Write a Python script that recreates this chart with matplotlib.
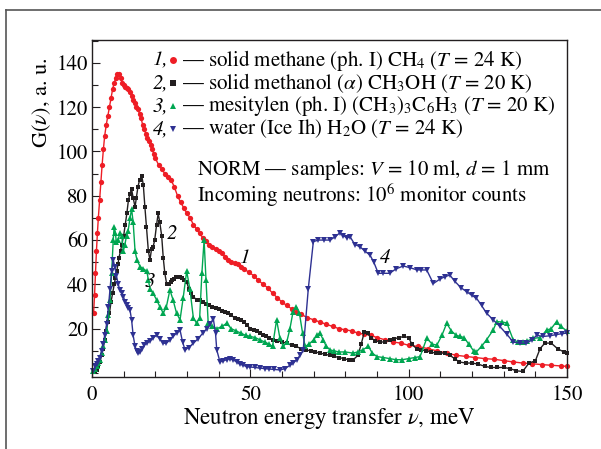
"""
Generalized density of states G(nu) for cold moderator candidates.
"""
import matplotlib
matplotlib.use("Agg")
import matplotlib.pyplot as plt
from matplotlib.lines import Line2D
from matplotlib.ticker import MultipleLocator

# --- data ---
methane_x = [0.5, 0.8, 1.1, 1.4, 1.7, 2.0, 2.4, 2.8, 3.2, 3.6, 4.0, 4.5, 5.0, 5.5, 6.0, 6.5, 7.0, 7.5,
             8.0, 8.5, 9.0, 9.5, 10.0, 10.5, 11.0, 11.5, 12.0, 12.5, 13.0, 13.5, 14.0, 14.5, 15.0, 15.5,
             16.0, 16.5, 17.0, 17.5, 18.0, 18.5, 19.0, 19.5, 20.0, 21.0, 22.0, 23.0, 24.0, 25.0, 26.0,
             27.0, 28.0, 29.0, 30.0, 31.0, 32.0, 33.0, 34.0, 35.0, 36.0, 37.0, 38.0, 39.0, 40.0, 41.0,
             42.0, 43.0, 44.0, 45.0, 46.0, 47.0, 48.0, 49.5, 51.0, 52.5, 54.0, 55.5, 57.0, 58.5, 60.0,
             61.5, 63.0, 64.5, 66.0, 68.0, 70.0, 72.0, 74.0, 76.0, 78.0, 80.0, 82.0, 84.0, 86.0, 88.0,
             90.0, 92.5, 95.0, 97.5, 100.0, 103.0, 106.0, 109.0, 112.0, 115.0, 118.0, 121.0, 124.0,
             127.0, 130.0, 133.0, 136.0, 139.0, 142.0, 145.0, 148.0, 150.0]
methane_g = [27, 35, 45, 55, 63, 70, 78, 86, 94, 101, 107, 112, 116, 120, 124, 128, 131, 133,
             135, 135, 133, 131, 130, 129, 128.5, 128, 127, 125, 123, 122, 120, 119, 117, 115,
             112, 110, 108, 106, 104.5, 103, 101, 99, 97, 94, 92, 90, 88.5, 87, 84,
             80, 77, 74.5, 72, 70, 67, 65, 63, 61, 59.5, 58, 57, 56, 55, 54,
             52.5, 51, 50, 49.5, 49, 48, 47, 45.5, 44, 42, 40, 38.5, 36, 34, 32,
             30.5, 29, 27.5, 26.5, 25, 24, 23, 22, 21, 20, 19.5, 19, 18, 17.5, 17,
             16, 15, 14, 13.5, 12.5, 12, 11, 10, 9, 8, 7.5, 7, 6.5,
             6.2, 5.6, 5.0, 4.5, 4.2, 3.8, 3.5, 3.2, 3.0]

methanol_x = [0.5, 1.0, 1.5, 2.0, 2.5, 3.0, 3.5, 4.0, 4.5, 5.0, 5.5, 6.0, 6.5, 7.0, 7.4, 7.8, 8.2, 8.5,
              9.0, 9.4, 10.0, 10.5, 11.0, 11.5, 12.0, 12.5, 13.0, 13.6, 14.0, 14.5, 15.0, 15.7, 16.2,
              16.7, 17.2, 17.8, 18.3, 18.8, 19.3, 19.8, 20.4, 20.9, 21.4, 22.0, 22.5, 23.0, 23.6, 24.2,
              24.8, 25.4, 26.0, 26.6, 27.2, 27.8, 28.5, 29.2, 29.9, 30.6, 31.3, 32.0, 33.0, 34.0, 35.0,
              36.0, 37.0, 38.0, 39.0, 40.0, 41.0, 42.0, 43.0, 44.0, 45.0, 46.0, 47.0, 48.0, 49.0, 50.0,
              51.0, 52.0, 53.0, 54.0, 55.0, 56.0, 57.0, 58.5, 60.0, 61.5, 63.0, 64.5, 66.0, 67.5, 69.0,
              70.5, 72.0, 73.5, 75.0, 76.5, 78.0, 79.5, 81.0, 82.5, 84.0, 85.0, 86.0, 87.0, 88.0, 89.5,
              91.0, 92.5, 94.0, 95.5, 97.0, 98.5, 100.0, 101.0, 102.5, 104.0, 105.5, 107.0, 108.5,
              110.0, 111.5, 113.0, 114.5, 116.0, 118.0, 120.0, 122.0, 124.0, 126.0, 128.0, 130.0,
              132.0, 134.0, 136.0, 138.0, 140.0, 141.5, 143.0, 145.0, 147.0, 149.0, 150.0]
methanol_g = [0.3, 0.8, 1.5, 3, 5, 8, 11, 15, 19, 23, 27, 32, 36, 40, 43, 46, 49, 52,
              55, 58, 62, 67, 72, 78, 81, 83, 79, 75, 79, 84, 87, 89, 85,
              75, 66, 55, 51, 56, 57, 60, 67, 72, 68, 62, 52, 45, 40, 40,
              41, 42, 42.5, 43.5, 43.5, 43.5, 43, 42, 41, 38, 36, 34.5, 33, 33, 32,
              31, 30.5, 30, 29.5, 29, 28, 27.5, 27, 26, 25, 24.5, 24, 23, 21.5, 20,
              19.5, 19, 18, 17, 16.5, 16, 15, 14.5, 14, 13.5, 12.5, 12, 11, 10.5, 10,
              9.5, 9, 8.5, 8, 7.5, 7, 6.5, 6, 6, 8, 13, 18.5, 18, 16, 14.5,
              14, 14, 15, 15.5, 16, 16.5, 16, 13, 11, 10.5, 10, 9.5, 9,
              9, 9, 8, 6.5, 5, 4.5, 4.5, 4, 3, 2.5, 2.5, 2.5,
              2, 1, 0.7, 4.5, 5.5, 11, 13.5, 13.5, 11, 9.5, 9]

mesitylene_x = [0.3, 1.0, 1.5, 2.0, 2.5, 3.0, 3.5, 4.0, 4.6, 5.2, 5.7, 6.2, 6.7, 7.0, 7.4, 7.7, 8.2, 8.8,
                9.4, 9.9, 10.4, 10.9, 11.4, 12.0, 12.5, 13.0, 13.6, 14.2, 15.2, 16.2, 17.3, 17.8, 18.3,
                19.3, 20.4, 21.4, 22.5, 23.5, 24.6, 25.6, 26.7, 27.8, 28.8, 29.9, 30.9, 32.0, 33.0, 34.0,
                34.7, 35.4, 36.0, 36.7, 38.0, 39.4, 41.0, 42.5, 44.0, 45.5, 47.0, 48.5, 50.0, 51.5, 53.0,
                54.5, 56.0, 57.0, 58.3, 59.3, 60.4, 61.5, 62.5, 63.5, 64.5, 65.5, 66.5, 67.3, 68.5, 70.0,
                71.0, 72.0, 73.0, 74.0, 75.2, 76.5, 78.0, 80.0, 82.4, 84.0, 85.5, 87.3, 88.5, 90.0, 92.0,
                94.0, 96.0, 98.0, 100.0, 102.0, 103.6, 105.7, 107.5, 108.9, 110.5, 112.0, 113.5, 115.0,
                116.2, 117.5, 119.0, 120.5, 121.4, 123.0, 124.6, 126.7, 127.8, 129.5, 131.0, 133.0,
                134.5, 136.0, 137.5, 139.3, 141.5, 143.6, 145.0, 146.7, 148.0, 150.0]
mesitylene_g = [1, 2, 3, 4.5, 6, 9, 12, 15, 19, 26, 33, 45, 60, 66, 63, 59, 60, 63,
                62, 55, 58, 62, 64, 70, 74, 68, 55, 51, 48, 47, 46, 42, 38,
                36, 33, 30, 27, 30, 37.5, 33, 27, 24, 34, 46, 38, 25, 22.5, 25,
                45, 60, 42, 22.4, 21, 20, 21, 22.4, 20, 19, 18, 17, 16.5, 16, 15,
                14, 13, 12, 24, 16, 12, 14, 20, 27.7, 30, 27, 18, 12, 13, 15,
                17, 18, 15, 12, 10.4, 10, 9.5, 9.5, 9, 9.5, 10.5, 12, 9, 7.4, 7,
                6.5, 6, 6, 6.5, 7, 7.4, 15.6, 13, 12.6, 17, 22.4, 19, 17,
                16.5, 16, 13, 10, 9.6, 12, 15, 19.4, 23.2, 23, 22.6, 15,
                14, 14, 14.5, 15.6, 16, 19.4, 20, 23.2, 21, 19]

water_x = [0.3, 1.0, 1.5, 2.0, 2.5, 3.0, 3.5, 4.0, 4.6, 5.2, 5.7, 6.2, 6.7, 7.2, 7.7, 8.3, 8.8, 9.4,
           9.9, 10.5, 11.0, 11.5, 12.0, 12.5, 13.0, 13.6, 14.1, 14.6, 15.2, 15.8, 16.5, 17.3, 18.3,
           19.4, 20.4, 21.4, 22.5, 23.5, 24.6, 25.6, 26.7, 27.8, 28.6, 29.4, 30.5, 32.0, 33.5, 35.0,
           36.2, 37.3, 38.3, 39.0, 39.4, 40.4, 41.5, 42.5, 43.5, 44.6, 45.7, 46.7, 47.8, 48.8, 50.0,
           51.5, 53.0, 54.5, 56.0, 57.5, 59.4, 61.0, 62.5, 63.5, 64.6, 65.7, 66.7, 68.3, 69.9, 71.5,
           73.2, 75.2, 76.8, 78.3, 79.4, 80.4, 81.5, 83.0, 84.6, 86.2, 87.8, 89.0, 90.4, 92.0, 94.0,
           96.0, 98.3, 100.5, 102.5, 104.0, 105.7, 107.8, 110.0, 111.5, 113.0, 114.5, 116.5, 118.3,
           120.0, 121.4, 123.0, 124.6, 126.7, 128.8, 131.0, 133.0, 135.0, 137.2, 139.0, 140.4,
           142.5, 144.5, 146.5, 148.5, 150.0]
water_g = [1, 3, 4, 5.5, 7, 10, 13, 17, 22, 30, 38, 46, 51, 48, 44, 40, 37.5, 36,
           34.5, 32, 30.5, 29.5, 28.4, 24, 17, 12, 10, 8.9, 9.5, 11, 12.5, 13.4, 14.5,
           16, 17, 15.5, 13.4, 13.5, 14.9, 16.5, 18, 19.4, 14, 10.4, 11.5, 13.4, 15.5, 18,
           20, 22, 24.6, 18, 10.4, 5.1, 5.5, 6, 6.5, 5.9, 5, 4, 3.5, 2.9, 2.7,
           2.5, 2.2, 2, 1.8, 1.6, 1.4, 2, 3.5, 4.4, 5.9, 8, 10.4, 38, 59.3, 60,
           60, 60, 61.5, 63.3, 62, 61, 61.5, 58, 57, 55, 53.2, 50, 45, 45, 45,
           47, 48.3, 47.5, 46.6, 46.5, 46.5, 40.4, 42.5, 43.5, 44.2, 41.5, 38.5, 36.7,
           35, 33.8, 30.5, 27, 24, 21, 17.5, 14, 13.5, 13.4, 15, 17,
           16.5, 16.8, 17.3, 17.8, 18]

legend_labels = [
    r'— solid methane (ph. I) CH$_4$ ($T$ = 24 K)',
    r'— solid methanol ($\alpha$) CH$_3$OH ($T$ = 20 K)',
    r'— mesitylen (ph. I) (CH$_3$)$_3$C$_6$H$_3$ ($T$ = 20 K)',
    r'— water (Ice Ih) H$_2$O ($T$ = 24 K)',
]


def make_plot(save_path):
    plt.rcParams['font.family'] = ['STIXGeneral', 'Liberation Serif', 'DejaVu Serif']
    plt.rcParams['mathtext.fontset'] = 'stix'

    fig = plt.figure(figsize=(6.01, 4.49), dpi=100)
    ax = fig.add_axes([92 / 601, 1 - 377 / 449, 475 / 601, 337 / 449])

    series = [
        (methane_x, methane_g, '#ee1d25', 'o', 3.8),
        (methanol_x, methanol_g, '#231f20', 's', 3.2),
        (mesitylene_x, mesitylene_g, '#00a651', '^', 3.8),
        (water_x, water_g, '#2e3192', 'v', 3.8),
    ]
    for xs, gs, col, mk, ms in series:
        ax.plot(xs, gs, color=col, marker=mk, markersize=ms, linewidth=1.0,
                markeredgewidth=0, clip_on=False)

    ax.set_xlim(0, 150)
    ax.set_ylim(-1.8, 150.3)
    ax.xaxis.set_major_locator(MultipleLocator(50))
    ax.xaxis.set_minor_locator(MultipleLocator(10))
    ax.set_yticks([20, 40, 60, 80, 100, 120, 140])
    ax.yaxis.set_minor_locator(MultipleLocator(10))
    ax.tick_params(which='both', direction='in', labelsize=15, top=False, right=False,
                   width=0.8, color='#231f20')
    ax.tick_params(which='major', length=6)
    ax.tick_params(which='minor', length=4)
    ax.tick_params(axis='x', pad=6)
    ax.tick_params(axis='y', pad=3)
    for sp in ax.spines.values():
        sp.set_linewidth(1.0)
        sp.set_color('#231f20')

    ax.set_xlabel(r'Neutron energy transfer $\nu$, meV', fontsize=16.5, labelpad=1)
    fig.text(42 / 601, 1 - 103 / 449, r'G($\nu$), a. u.', rotation=90, fontsize=16,
             ha='center', va='center')

    # curve numbers
    ax.text(48.3, 52, '1', fontsize=15, style='italic', ha='center', va='center')
    ax.text(25.3, 63, '2', fontsize=15, style='italic', ha='center', va='center')
    ax.text(18.3, 41, '3', fontsize=15, style='italic', ha='center', va='center')
    ax.text(92.5, 52, '4', fontsize=15, style='italic', ha='center', va='center')

    # legend, drawn row by row
    row_y = [0.94, 0.873, 0.805, 0.737]
    for i, (lab, s) in enumerate(zip(legend_labels, series)):
        y = row_y[i]
        ax.text(0.128, y, f'{i + 1},', transform=ax.transAxes, fontsize=15,
                style='italic', ha='left', va='center')
        ax.plot([0.171], [y], transform=ax.transAxes, color=s[2], marker=s[3],
                markersize=5, markeredgewidth=0, clip_on=False)
        ax.text(0.19, y, lab, transform=ax.transAxes, fontsize=15,
                ha='left', va='center')

    ax.text(0.221, 0.614, r'NORM — samples: $V$ = 10 ml, $d$ = 1 mm',
            transform=ax.transAxes, fontsize=15, ha='left', va='center')
    ax.text(0.221, 0.54, r'Incoming neutrons: 10$^6$ monitor counts',
            transform=ax.transAxes, fontsize=15, ha='left', va='center')

    # outer frame of the figure (only top and left edges are visible)
    fig.add_artist(Line2D([6 / 601, 1], [1 - 10 / 449, 1 - 10 / 449],
                          transform=fig.transFigure, color='#555555', linewidth=1.2))
    fig.add_artist(Line2D([6 / 601, 6 / 601], [0, 1 - 10 / 449],
                          transform=fig.transFigure, color='#555555', linewidth=1.2))

    fig.savefig(save_path, dpi=100)


if __name__ == "__main__":
    make_plot('out.png')
